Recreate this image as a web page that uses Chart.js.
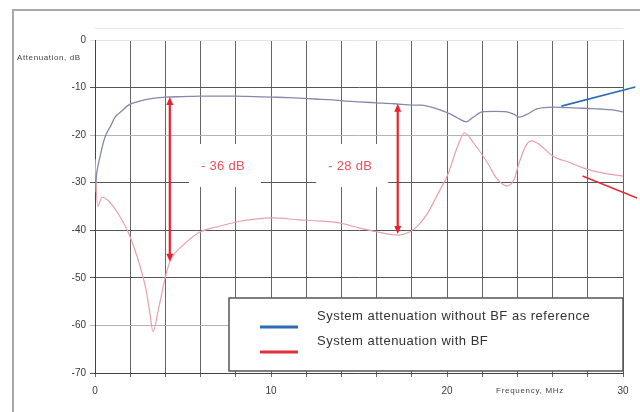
<!DOCTYPE html>
<html>
<head>
<meta charset="utf-8">
<script src="https://cdn.jsdelivr.net/npm/chart.js@4.4.1/dist/chart.umd.min.js"></script>
<style>
  html, body { margin: 0; padding: 0; background: #fff; }
  #wrap { width: 640px; height: 412px; position: relative; }
</style>
</head>
<body>
<div id="wrap"><canvas id="c" width="640" height="412"></canvas></div>
<script>
// ---- data ----
const blueFreq = [0, 0.1, 0.28, 0.57, 0.9, 1.14, 1.5, 1.9, 2.4, 2.8, 3.4, 4, 5, 6, 7, 8, 9, 10, 11, 11.6, 12.5, 13.5, 14.1, 15, 16, 17, 18.1, 18.5, 19, 19.6, 20.2, 20.6, 21.1, 21.5, 22, 22.7, 23.4, 23.8, 24.1, 24.5, 25.1, 25.5, 26, 26.7, 27.4, 28, 28.7, 29.4, 30];
const blueAtt  = [-32, -28, -24.6, -20.4, -18, -16.2, -15, -13.7, -13, -12.6, -12.2, -12.0, -11.9, -11.8, -11.8, -11.8, -11.9, -12, -12.1, -12.2, -12.4, -12.6, -12.8, -13, -13.2, -13.4, -13.7, -13.7, -14, -14.7, -15.6, -16.4, -17.2, -16.2, -15.1, -15, -15.1, -15.6, -16.2, -15.7, -14.5, -14.2, -14.1, -14.2, -14.3, -14.4, -14.5, -14.7, -15.1];

const redFreq = [0, 0.15, 0.4, 0.7, 1.0, 1.3, 1.9, 2.4, 2.9, 3.1, 3.3, 3.6, 4, 4.3, 4.9, 5.9, 6.9, 8.1, 9, 10.1, 11.6, 12.5, 13.8, 15, 16, 17.2, 17.9, 18.4, 18.9, 19.6, 20, 20.6, 21, 21.5, 22.3, 22.8, 23.4, 23.8, 24.1, 24.5, 24.8, 25.3, 26, 27, 27.9, 28.9, 30];
const redAtt  = [-25, -35, -33, -33.6, -34.8, -36.4, -40.5, -45.6, -52.5, -57, -61.3, -56.7, -49.8, -46.2, -43.5, -40.5, -39.3, -38.2, -37.7, -37.4, -37.8, -38, -38.4, -39.5, -40.3, -41, -40.3, -38.8, -36.4, -31.5, -28.7, -22.4, -19.5, -21.6, -25.8, -29, -30.7, -29.4, -25.8, -22.1, -21.2, -22.1, -24.4, -25.8, -27.1, -28, -28.6];

const xTickLabels = [0, 10, 20, 30];
const seriesNames = ['System attenuation without BF as reference', 'System attenuation with BF'];

// double arrows marking the difference
const arrowFreq   = [4.25, 17.2];
const arrowTop    = [-12.0, -13.4];
const arrowBottom = [-46.6, -40.8];
const diffLabels  = ['- 36 dB', '- 28 dB'];
const labelFreq   = [7.27, 14.5];
const labelAtt    = [-26.5, -26.5];

// leader lines leaving the plot to the right
const leaderFreq0 = [26.5, 27.7];
const leaderAtt0  = [-13.9, -28.6];
const leaderFreq1 = [30.7, 30.8];
const leaderAtt1  = [-9.9, -33.2];

const blueCurve = '#8489ab';
const redCurve  = '#e9a0aa';
const blueKey   = '#2a6db5';
const redKey    = '#e0303c';
const arrowRed  = '#e8222e';
const FONT = '"Liberation Sans", Arial, sans-serif';

function pts(xs, ys) { return xs.map((x, i) => ({ x: x, y: ys[i] })); }

const decor = {
  id: 'decor',
  beforeDraw(chart) {
    const c = chart.ctx;
    c.save();
    c.fillStyle = '#fff';
    c.fillRect(0, 0, chart.width, chart.height);
    c.strokeStyle = '#a8a8a8';
    c.lineWidth = 2;
    c.strokeRect(13, 10, 700, 500);
    c.restore();
  },
  beforeDatasetsDraw(chart) {
    const c = chart.ctx, xs = chart.scales.x, ys = chart.scales.y;
    c.save();
    c.fillStyle = '#fff';
    diffLabels.forEach((t, i) => {
      const px = xs.getPixelForValue(labelFreq[i]);
      const py = ys.getPixelForValue(labelAtt[i]);
      c.fillRect(px - 34, py - 22, 72, 43);
    });
    c.restore();
  },
  afterDatasetsDraw(chart) {
    const c = chart.ctx, xs = chart.scales.x, ys = chart.scales.y, a = chart.chartArea;
    c.save();
    // arrows
    c.strokeStyle = arrowRed; c.fillStyle = arrowRed; c.lineWidth = 2.2;
    arrowFreq.forEach((f, i) => {
      const px = xs.getPixelForValue(f);
      const y0 = ys.getPixelForValue(arrowTop[i]);
      const y1 = ys.getPixelForValue(arrowBottom[i]);
      c.beginPath(); c.moveTo(px, y0 + 6); c.lineTo(px, y1 - 6); c.stroke();
      c.beginPath(); c.moveTo(px, y0); c.lineTo(px - 3.5, y0 + 8); c.lineTo(px + 3.5, y0 + 8); c.closePath(); c.fill();
      c.beginPath(); c.moveTo(px, y1); c.lineTo(px - 3.5, y1 - 8); c.lineTo(px + 3.5, y1 - 8); c.closePath(); c.fill();
    });
    // labels
    c.fillStyle = '#e8505c';
    c.font = '13px ' + FONT;
    c.letterSpacing = '0.3px';
    c.textAlign = 'center'; c.textBaseline = 'middle';
    diffLabels.forEach((t, i) => {
      c.fillText(t, xs.getPixelForValue(labelFreq[i]), ys.getPixelForValue(labelAtt[i]));
    });
    c.letterSpacing = '0px';
    // leader lines
    c.lineWidth = 1.6;
    [blueKey, redKey].forEach((col, i) => {
      c.strokeStyle = col;
      c.beginPath();
      c.moveTo(xs.getPixelForValue(leaderFreq0[i]), ys.getPixelForValue(leaderAtt0[i]));
      c.lineTo(xs.getPixelForValue(leaderFreq1[i]), ys.getPixelForValue(leaderAtt1[i]));
      c.stroke();
    });
    // legend box
    const lx = a.left + 134, ly = a.top + 258, lw = a.right - lx, lh = 73;
    c.fillStyle = '#fff';
    c.fillRect(lx, ly, lw, lh);
    c.strokeStyle = '#555'; c.lineWidth = 1.5;
    c.strokeRect(lx, ly, lw, lh);
    c.lineWidth = 3;
    [blueKey, redKey].forEach((col, i) => {
      c.strokeStyle = col;
      c.beginPath();
      c.moveTo(lx + 31, ly + 29 + i * 25);
      c.lineTo(lx + 69, ly + 29 + i * 25);
      c.stroke();
    });
    c.fillStyle = '#333';
    c.font = '13px ' + FONT;
    c.letterSpacing = '0.5px';
    c.textAlign = 'left'; c.textBaseline = 'middle';
    seriesNames.forEach((t, i) => {
      c.fillText(t, lx + 88, ly + 18 + i * 25);
    });
    // axis titles
    c.fillStyle = '#444';
    c.font = '8px ' + FONT;
    c.letterSpacing = '0.6px';
    c.textAlign = 'left';
    c.fillText('Attenuation, dB', 17, 58);
    c.letterSpacing = '0.7px';
    c.textAlign = 'center';
    c.fillText('Frequency, MHz', 530, 391);
    c.letterSpacing = '0px';
    // faint top rule
    c.strokeStyle = '#e6e6e6'; c.lineWidth = 1;
    c.beginPath(); c.moveTo(a.left, 28.5); c.lineTo(a.right, 28.5); c.stroke();
    c.restore();
  }
};

new Chart(document.getElementById('c'), {
  type: 'line',
  data: {
    datasets: [
      { label: seriesNames[0], data: pts(blueFreq, blueAtt), borderColor: blueCurve, borderWidth: 1.3, pointRadius: 0, cubicInterpolationMode: 'monotone', fill: false },
      { label: seriesNames[1], data: pts(redFreq, redAtt), borderColor: redCurve, borderWidth: 1.2, pointRadius: 0, cubicInterpolationMode: 'monotone', fill: false }
    ]
  },
  options: {
    responsive: false,
    animation: false,
    devicePixelRatio: 1,
    layout: { padding: { top: 40, right: 17, bottom: 0, left: 0 } },
    plugins: { legend: { display: false }, tooltip: { enabled: false } },
    scales: {
      x: {
        type: 'linear', min: 0, max: 30,
        afterFit(s) { s.height = 39; },
        ticks: {
          stepSize: 2, autoSkip: false, maxRotation: 0, padding: 8,
          color: '#3a3a3a', font: { size: 10, family: FONT },
          callback: v => (xTickLabels.includes(v) ? String(v) : '')
        },
        grid: { color: '#666', lineWidth: 1, tickLength: 4 },
        border: { color: '#444', width: 1 }
      },
      y: {
        min: -70, max: 0,
        afterFit(s) { s.width = 95; },
        ticks: {
          stepSize: 10, padding: 4, color: '#3a3a3a',
          font: { size: 10, family: FONT }
        },
        grid: {
          lineWidth: 1, tickLength: 5,
          color: ctx => {
            const v = ctx.tick && ctx.tick.value;
            if (v === 0) return '#e4e4e4';
            if (v === -20 || v === -60) return '#b4b4b4';
            return '#555';
          }
        },
        border: { color: '#444', width: 1 }
      }
    }
  },
  plugins: [decor]
});
</script>
</body>
</html>
